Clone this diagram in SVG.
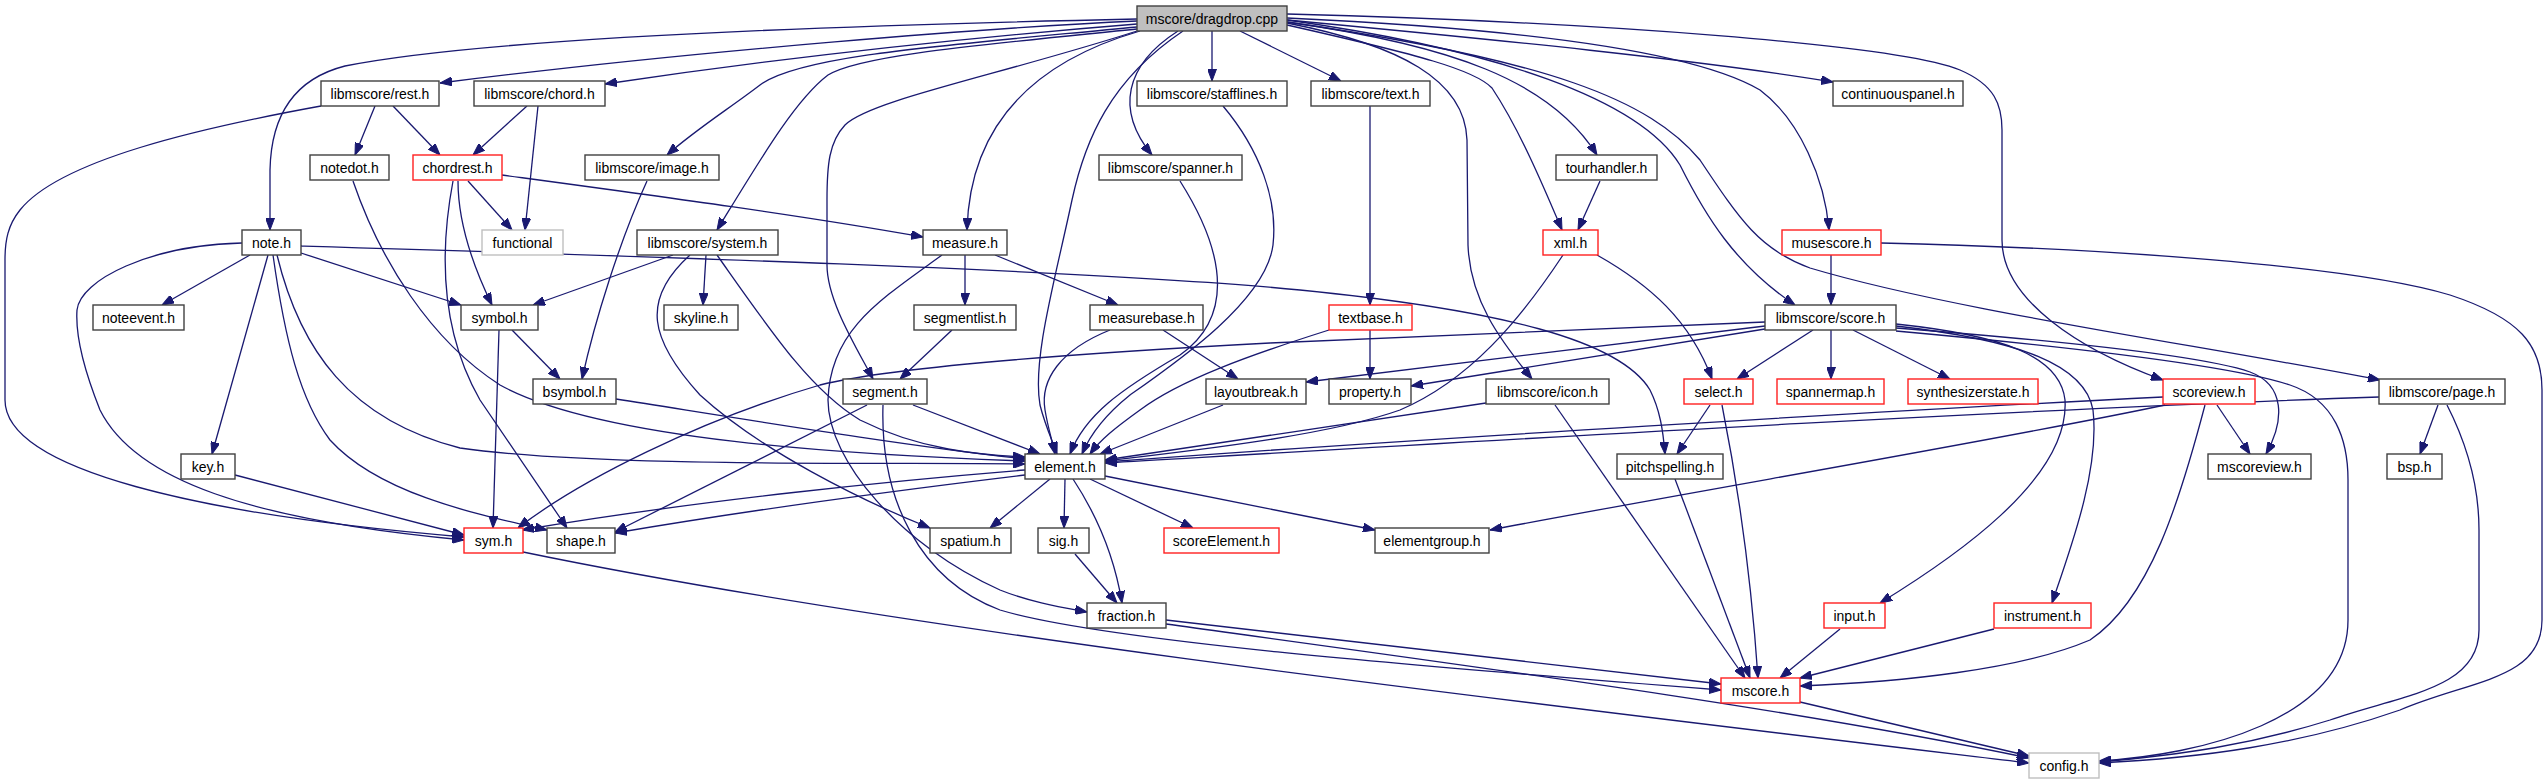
<svg xmlns="http://www.w3.org/2000/svg" width="2548" height="784" viewBox="0 0 2548 784">
<defs>
<style>
.n rect{fill:#fff;stroke:#404040;stroke-width:1.4}
.n.r rect{stroke:#ff2020}
.n.g rect{stroke:#bfbfbf}
.n.root rect{fill:#bfbfbf}
.n text{font-family:"Liberation Sans",Arial,sans-serif;font-size:14px;text-anchor:middle;fill:#000}
#edges path{fill:none;stroke:#191970;stroke-width:1.3;marker-end:url(#ah)}
</style>
<marker id="ah" viewBox="0 0 12 9" refX="12" refY="4.5" markerWidth="12" markerHeight="9" markerUnits="userSpaceOnUse" orient="auto">
<path d="M0,0 L12,4.5 L0,9 z" fill="#191970" stroke="#191970" stroke-width="1"/>
</marker>
</defs>
<rect width="2548" height="784" fill="#fff"/>
<g id="edges">
<path d="M1137,19 C900,24 500,35 345,66 C290,80 271,120 270,170 L270,230"/>
<path d="M1137,21 C1000,27 700,50 440,83"/>
<path d="M1137,24 C1000,35 800,55 605,84"/>
<path d="M1137,27 C950,45 800,55 760,85 C730,108 695,130 667,155"/>
<path d="M1137,29 C980,45 860,55 828,75 C795,100 760,160 717,230"/>
<path d="M1140,31 C1040,60 970,120 967,230"/>
<path d="M1137,31 C1000,75 870,100 845,125 C829,142 827,165 827,200 L827,265 C827,300 855,345 873,379"/>
<path d="M1183,31 C1110,80 1085,140 1072,200 C1055,280 1032,360 1040,405 C1045,425 1052,440 1057,454"/>
<path d="M1178,31 C1125,65 1115,110 1152,155"/>
<path d="M1212,31 L1212,81"/>
<path d="M1240,31 L1341,81"/>
<path d="M1287,23 C1400,45 1465,80 1467,140 L1468,245 C1470,300 1500,340 1532,379"/>
<path d="M1287,25 C1420,55 1475,70 1492,88 C1520,130 1545,190 1562,230"/>
<path d="M1287,22 C1450,45 1550,80 1597,155"/>
<path d="M1287,20 C1500,50 1640,100 1680,165 C1705,215 1735,265 1795,305"/>
<path d="M1287,18 C1550,30 1700,55 1760,90 C1800,120 1825,180 1829,230"/>
<path d="M1287,20 C1500,40 1700,60 1833,82"/>
<path d="M1287,14 C1600,22 1900,45 1960,70 C1995,85 2002,105 2002,130 L2002,240 C2002,300 2080,350 2163,380"/>
<path d="M1287,22 C1550,60 1650,100 1700,160 C1740,220 1760,250 1810,268 C1950,310 2200,345 2380,380"/>
<path d="M375,106 L355,155"/>
<path d="M393,106 L440,155"/>
<path d="M321,106 C200,128 60,160 20,210 C8,225 5,240 5,260 L5,400 C5,470 200,515 464,537"/>
<path d="M527,106 L473,155"/>
<path d="M538,106 L525,230"/>
<path d="M353,181 C380,260 430,340 500,385 C600,440 850,455 1025,461"/>
<path d="M468,181 L512,230"/>
<path d="M458,181 C458,220 470,260 492,305"/>
<path d="M453,181 C440,250 440,330 480,400 L567,528"/>
<path d="M502,175 C650,195 800,215 923,237"/>
<path d="M647,181 C620,240 595,320 582,379"/>
<path d="M250,255 L162,305"/>
<path d="M268,255 L212,454"/>
<path d="M242,243 C150,245 80,280 77,310 C75,340 88,380 100,410 C135,480 250,520 464,540"/>
<path d="M273,255 C285,340 300,400 330,440 C380,495 480,515 547,530"/>
<path d="M277,255 C300,350 350,420 460,448 C600,468 900,462 1025,464"/>
<path d="M301,253 L461,305"/>
<path d="M301,246 C600,255 1100,270 1300,290 C1500,310 1620,340 1650,390 C1660,410 1663,430 1665,454"/>
<path d="M673,255 L533,305"/>
<path d="M706,255 L703,305"/>
<path d="M690,255 C640,300 650,340 700,395 C760,450 860,500 930,528"/>
<path d="M717,255 C770,330 810,390 860,420 C920,450 980,455 1025,457"/>
<path d="M965,255 L965,305"/>
<path d="M995,255 L1118,305"/>
<path d="M942,255 C880,300 830,330 828,400 C828,460 900,545 1000,590 C1030,602 1060,607 1087,612"/>
<path d="M512,330 L560,379"/>
<path d="M499,330 L493,528"/>
<path d="M952,330 L900,379"/>
<path d="M1110,330 C1060,350 1040,380 1045,410 C1048,428 1052,440 1055,454"/>
<path d="M1163,330 L1238,379"/>
<path d="M1329,330 C1250,355 1180,380 1140,410 C1115,428 1100,440 1090,454"/>
<path d="M1370,330 L1370,379"/>
<path d="M1370,106 L1370,305"/>
<path d="M1223,106 C1260,150 1278,200 1273,245 C1266,300 1180,360 1130,395 C1105,415 1090,435 1082,454"/>
<path d="M1180,181 C1230,260 1230,320 1180,355 C1120,390 1085,415 1070,454"/>
<path d="M1600,181 L1578,230"/>
<path d="M1563,255 C1520,320 1470,380 1400,410 C1330,435 1200,450 1105,461"/>
<path d="M1597,255 C1650,285 1690,320 1712,379"/>
<path d="M1831,255 L1831,305"/>
<path d="M1881,243 C2100,248 2350,265 2450,295 C2520,318 2542,345 2542,390 L2542,620 C2542,680 2470,680 2400,710 C2300,745 2200,758 2099,763"/>
<path d="M1813,330 L1737,379"/>
<path d="M1831,330 L1831,379"/>
<path d="M1853,330 L1950,379"/>
<path d="M1765,322 L1270,343 C1100,352 900,365 820,385 C700,420 580,480 518,528"/>
<path d="M1765,326 L1306,382"/>
<path d="M1765,329 L1411,386"/>
<path d="M1896,324 C2000,335 2060,355 2065,400 C2070,480 1950,560 1880,603"/>
<path d="M1896,326 C2020,340 2085,365 2093,410 C2100,470 2070,550 2052,603"/>
<path d="M1896,328 C2050,340 2200,355 2250,372 C2285,385 2285,420 2266,454"/>
<path d="M1896,331 C2050,345 2230,365 2290,385 C2335,400 2348,440 2348,480 L2348,620 C2348,720 2200,755 2099,761"/>
<path d="M616,399 C750,420 900,445 1025,459"/>
<path d="M913,405 L1040,454"/>
<path d="M867,405 L615,532"/>
<path d="M883,405 C880,500 920,580 1000,610 C1100,640 1400,665 1721,690"/>
<path d="M1223,405 L1100,454"/>
<path d="M1486,403 L1105,460"/>
<path d="M1555,405 L1745,678"/>
<path d="M1710,405 L1677,454"/>
<path d="M1722,405 C1735,470 1750,560 1758,678"/>
<path d="M2163,397 C1900,410 1400,440 1105,462"/>
<path d="M2165,405 C2000,440 1700,490 1490,530"/>
<path d="M2217,405 L2250,454"/>
<path d="M2205,405 C2180,500 2150,600 2090,640 C2020,670 1900,682 1800,686"/>
<path d="M2438,405 L2420,454"/>
<path d="M2447,405 C2470,450 2479,490 2479,530 L2479,630 C2479,690 2400,695 2330,720 C2250,745 2180,755 2099,762"/>
<path d="M2379,397 C2000,410 1500,440 1105,463"/>
<path d="M235,475 L464,535"/>
<path d="M1025,470 C900,480 700,500 522,530"/>
<path d="M1025,475 C900,490 750,510 615,533"/>
<path d="M1050,479 L990,528"/>
<path d="M1065,479 L1064,528"/>
<path d="M1073,479 C1100,520 1115,560 1122,603"/>
<path d="M1090,479 L1193,528"/>
<path d="M1105,476 L1375,530"/>
<path d="M1075,554 L1117,603"/>
<path d="M1166,620 L1721,684"/>
<path d="M1166,624 C1500,670 1800,710 2029,758"/>
<path d="M1675,479 L1750,678"/>
<path d="M1840,629 L1780,678"/>
<path d="M1994,629 L1800,678"/>
<path d="M1800,702 L2029,756"/>
<path d="M523,552 C900,630 1500,700 2029,763"/>
</g>
<g id="n0" class="n root"><rect x="1137" y="6" width="150" height="25"/><text x="1212" y="23.5">mscore/dragdrop.cpp</text></g>
<g id="n1" class="n"><rect x="321" y="81" width="118" height="25"/><text x="380" y="98.5">libmscore/rest.h</text></g>
<g id="n2" class="n"><rect x="474" y="81" width="131" height="25"/><text x="539.5" y="98.5">libmscore/chord.h</text></g>
<g id="n3" class="n"><rect x="1137" y="81" width="150" height="25"/><text x="1212" y="98.5">libmscore/stafflines.h</text></g>
<g id="n4" class="n"><rect x="1311" y="81" width="119" height="25"/><text x="1370.5" y="98.5">libmscore/text.h</text></g>
<g id="n5" class="n"><rect x="1833" y="81" width="130" height="25"/><text x="1898" y="98.5">continuouspanel.h</text></g>
<g id="n6" class="n"><rect x="310" y="155" width="79" height="25"/><text x="349.5" y="172.5">notedot.h</text></g>
<g id="n7" class="n r"><rect x="413" y="155" width="89" height="25"/><text x="457.5" y="172.5">chordrest.h</text></g>
<g id="n8" class="n"><rect x="585" y="155" width="134" height="25"/><text x="652" y="172.5">libmscore/image.h</text></g>
<g id="n9" class="n"><rect x="1099" y="155" width="143" height="25"/><text x="1170.5" y="172.5">libmscore/spanner.h</text></g>
<g id="n10" class="n"><rect x="1556" y="155" width="101" height="25"/><text x="1606.5" y="172.5">tourhandler.h</text></g>
<g id="n11" class="n"><rect x="242" y="230" width="59" height="25"/><text x="271.5" y="247.5">note.h</text></g>
<g id="n12" class="n g"><rect x="482" y="230" width="81" height="25"/><text x="522.5" y="247.5">functional</text></g>
<g id="n13" class="n"><rect x="637" y="230" width="141" height="25"/><text x="707.5" y="247.5">libmscore/system.h</text></g>
<g id="n14" class="n"><rect x="923" y="230" width="84" height="25"/><text x="965" y="247.5">measure.h</text></g>
<g id="n15" class="n r"><rect x="1543" y="230" width="55" height="25"/><text x="1570.5" y="247.5">xml.h</text></g>
<g id="n16" class="n r"><rect x="1782" y="230" width="99" height="25"/><text x="1831.5" y="247.5">musescore.h</text></g>
<g id="n17" class="n"><rect x="93" y="305" width="91" height="25"/><text x="138.5" y="322.5">noteevent.h</text></g>
<g id="n18" class="n"><rect x="461" y="305" width="77" height="25"/><text x="499.5" y="322.5">symbol.h</text></g>
<g id="n19" class="n"><rect x="664" y="305" width="74" height="25"/><text x="701" y="322.5">skyline.h</text></g>
<g id="n20" class="n"><rect x="914" y="305" width="102" height="25"/><text x="965" y="322.5">segmentlist.h</text></g>
<g id="n21" class="n"><rect x="1090" y="305" width="113" height="25"/><text x="1146.5" y="322.5">measurebase.h</text></g>
<g id="n22" class="n r"><rect x="1329" y="305" width="83" height="25"/><text x="1370.5" y="322.5">textbase.h</text></g>
<g id="n23" class="n"><rect x="1765" y="305" width="131" height="25"/><text x="1830.5" y="322.5">libmscore/score.h</text></g>
<g id="n24" class="n"><rect x="533" y="379" width="83" height="25"/><text x="574.5" y="396.5">bsymbol.h</text></g>
<g id="n25" class="n"><rect x="843" y="379" width="84" height="25"/><text x="885" y="396.5">segment.h</text></g>
<g id="n26" class="n"><rect x="1206" y="379" width="100" height="25"/><text x="1256" y="396.5">layoutbreak.h</text></g>
<g id="n27" class="n"><rect x="1329" y="379" width="82" height="25"/><text x="1370" y="396.5">property.h</text></g>
<g id="n28" class="n"><rect x="1486" y="379" width="123" height="25"/><text x="1547.5" y="396.5">libmscore/icon.h</text></g>
<g id="n29" class="n r"><rect x="1684" y="379" width="69" height="25"/><text x="1718.5" y="396.5">select.h</text></g>
<g id="n30" class="n r"><rect x="1777" y="379" width="107" height="25"/><text x="1830.5" y="396.5">spannermap.h</text></g>
<g id="n31" class="n r"><rect x="1908" y="379" width="130" height="25"/><text x="1973" y="396.5">synthesizerstate.h</text></g>
<g id="n32" class="n r"><rect x="2163" y="379" width="92" height="25"/><text x="2209" y="396.5">scoreview.h</text></g>
<g id="n33" class="n"><rect x="2379" y="379" width="126" height="25"/><text x="2442" y="396.5">libmscore/page.h</text></g>
<g id="n34" class="n"><rect x="181" y="454" width="54" height="25"/><text x="208" y="471.5">key.h</text></g>
<g id="n35" class="n"><rect x="1025" y="454" width="80" height="25"/><text x="1065" y="471.5">element.h</text></g>
<g id="n36" class="n"><rect x="1617" y="454" width="106" height="25"/><text x="1670" y="471.5">pitchspelling.h</text></g>
<g id="n37" class="n"><rect x="2208" y="454" width="103" height="25"/><text x="2259.5" y="471.5">mscoreview.h</text></g>
<g id="n38" class="n"><rect x="2387" y="454" width="55" height="25"/><text x="2414.5" y="471.5">bsp.h</text></g>
<g id="n39" class="n r"><rect x="464" y="528" width="59" height="25"/><text x="493.5" y="545.5">sym.h</text></g>
<g id="n40" class="n"><rect x="547" y="528" width="68" height="25"/><text x="581" y="545.5">shape.h</text></g>
<g id="n41" class="n"><rect x="930" y="528" width="81" height="25"/><text x="970.5" y="545.5">spatium.h</text></g>
<g id="n42" class="n"><rect x="1038" y="528" width="51" height="25"/><text x="1063.5" y="545.5">sig.h</text></g>
<g id="n43" class="n r"><rect x="1164" y="528" width="115" height="25"/><text x="1221.5" y="545.5">scoreElement.h</text></g>
<g id="n44" class="n"><rect x="1375" y="528" width="114" height="25"/><text x="1432" y="545.5">elementgroup.h</text></g>
<g id="n45" class="n"><rect x="1087" y="603" width="79" height="25"/><text x="1126.5" y="620.5">fraction.h</text></g>
<g id="n46" class="n r"><rect x="1824" y="603" width="61" height="25"/><text x="1854.5" y="620.5">input.h</text></g>
<g id="n47" class="n r"><rect x="1994" y="603" width="97" height="25"/><text x="2042.5" y="620.5">instrument.h</text></g>
<g id="n48" class="n r"><rect x="1721" y="678" width="79" height="25"/><text x="1760.5" y="695.5">mscore.h</text></g>
<g id="n49" class="n g"><rect x="2029" y="753" width="70" height="25"/><text x="2064" y="770.5">config.h</text></g>
</svg>
